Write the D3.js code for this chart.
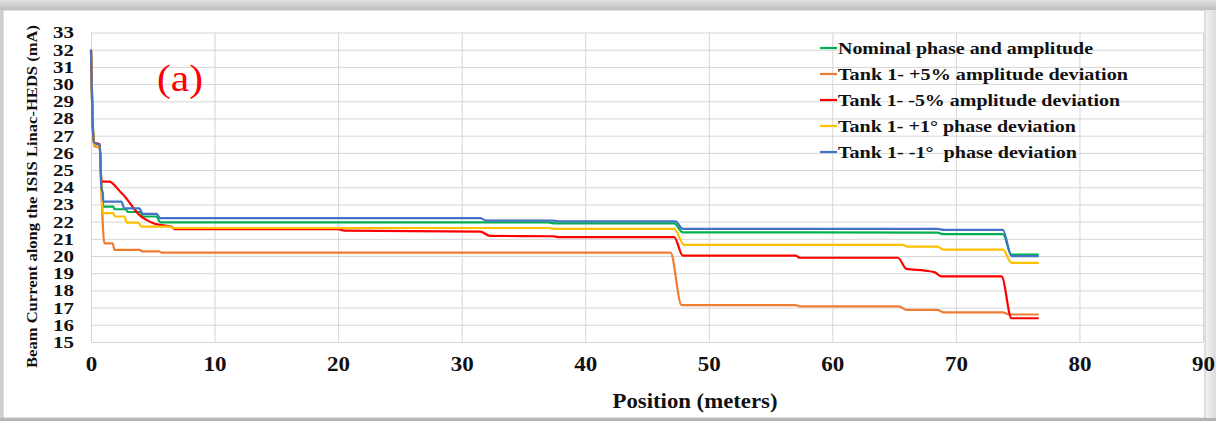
<!DOCTYPE html>
<html lang="en">
<head>
<meta charset="utf-8">
<title>Beam Current along the ISIS Linac-HEDS</title>
<script src="https://cdn.jsdelivr.net/npm/d3@7"></script>
<style>
    body { margin: 0; background: #ffffff; }
    text { font-family: "Liberation Serif", "Times New Roman", serif; }
    .grid line { stroke: #d6d6d6; stroke-width: 1; }
    .grid path { display: none; }
    .lbl path, .lbl line { display: none; }
</style>
</head>
<body>
<script>
/* ---- data: [position (m), beam current (mA)] ---- */
var xTicks = [0, 10, 20, 30, 40, 50, 60, 70, 80, 90];
var yTicks = [15, 16, 17, 18, 19, 20, 21, 22, 23, 24, 25, 26, 27, 28, 29, 30, 31, 32, 33];

var nominal = [[0,32],[0.15,27.5],[0.25,26.6],[0.7,26.4],[0.85,24.0],[0.95,23.2],[1.0,22.87],[1.8,22.87],
    [1.9,22.72],[2.8,22.72],[3.0,22.56],[4.0,22.56],[4.2,22.3],[5.3,22.3],[5.6,21.96],[37.0,21.96],[37.5,21.9],
    [47.2,21.9],[47.9,21.38],[68.5,21.36],[69.0,21.27],[73.8,21.27],[74.5,20.08],[76.7,20.08]];
var plus5amp = [[0,32],[0.15,27.5],[0.25,26.4],[0.7,26.3],[0.85,23.6],[1.08,20.74],[1.75,20.74],[1.9,20.36],
    [4.0,20.36],[4.1,20.27],[5.5,20.27],[5.7,20.2],[46.9,20.2],[47.8,17.15],[57.0,17.15],[57.4,17.07],
    [65.4,17.07],[66.0,16.87],[68.5,16.87],[69.0,16.72],[73.8,16.72],[74.3,16.6],[76.7,16.6]];
var minus5amp = [[0,32],[0.15,27.5],[0.25,26.6],[0.7,26.5],[0.85,24.33],[1.5,24.33],[2.0,24.04],[2.35,23.75],
    [2.75,23.45],[3.16,23.07],[3.56,22.68],[3.97,22.35],[4.5,22.1],[5.04,21.91],[5.58,21.81],[6.5,21.71],
    [6.8,21.56],[20.0,21.56],[20.5,21.48],[31.5,21.42],[32.3,21.17],[37.4,21.15],[37.8,21.1],[47.2,21.1],
    [47.9,20.02],[57.0,20.02],[57.4,19.9],[65.3,19.9],[66.0,19.25],[67.5,19.15],[68.3,19.05],[68.8,18.82],
    [73.7,18.82],[74.5,16.38],[76.7,16.38]];
var plus1deg = [[0,32],[0.15,27.5],[0.25,26.5],[0.7,26.33],[0.85,23.5],[1.0,22.49],[1.8,22.49],[1.95,22.3],
    [2.7,22.3],[2.9,21.94],[3.8,21.94],[4.1,21.71],[6.4,21.71],[6.7,21.63],[37.0,21.63],[37.5,21.58],
    [47.2,21.58],[48.0,20.65],[65.7,20.65],[66.1,20.55],[68.5,20.55],[69.0,20.37],[73.8,20.37],[74.5,19.6],[76.7,19.6]];
var minus1deg = [[0,32],[0.15,27.5],[0.25,26.6],[0.7,26.45],[0.85,23.9],[0.95,23.7],[1.0,23.16],[2.45,23.16],
    [2.7,22.77],[3.9,22.77],[4.2,22.45],[5.3,22.45],[5.6,22.2],[31.5,22.2],[32.0,22.06],[37.4,22.06],[37.8,22.02],
    [47.3,22.02],[47.9,21.58],[68.5,21.58],[69.0,21.52],[73.8,21.52],[74.5,20.0],[76.7,20.0]];

var seriesNames = ["Nominal phase and amplitude", "Tank 1- +5% amplitude deviation",
    "Tank 1- -5% amplitude deviation", "Tank 1- +1\u00B0 phase deviation", "Tank 1- -1\u00B0  phase deviation"];
var seriesData = [nominal, plus5amp, minus5amp, plus1deg, minus1deg];
var seriesColors = ["#00b050", "#ed7d31", "#ff0000", "#ffc000", "#4472c4"];

/* ---- layout ---- */
var W = 1216, H = 421;
var plot = {left: 91, right: 1203, top: 32.5, bottom: 342};

var x = d3.scaleLinear().domain([0, 90]).range([plot.left, plot.right]);
var y = d3.scaleLinear().domain([15, 33]).range([plot.bottom, plot.top]);

var svg = d3.select("body").append("svg")
    .attr("width", W)
    .attr("height", H);

/* grey frame around the white chart area */
var defs = svg.append("defs");
var gTop = defs.append("linearGradient").attr("id", "topg").attr("x1", 0).attr("y1", 0).attr("x2", 0).attr("y2", 1);
gTop.append("stop").attr("offset", "0%").attr("stop-color", "#e2e2e2");
gTop.append("stop").attr("offset", "100%").attr("stop-color", "#bdbdbd");
var gRight = defs.append("linearGradient").attr("id", "rightg").attr("x1", 0).attr("y1", 0).attr("x2", 1).attr("y2", 0);
gRight.append("stop").attr("offset", "0%").attr("stop-color", "#f4f4f4");
gRight.append("stop").attr("offset", "100%").attr("stop-color", "#dcdcdc");

svg.append("rect").attr("width", W).attr("height", H).attr("fill", "#d0d0d0");
svg.append("rect").attr("x", 0).attr("y", 0).attr("width", W).attr("height", 10).attr("fill", "url(#topg)");
svg.append("rect").attr("x", 1205).attr("y", 10).attr("width", 11).attr("height", 408).attr("fill", "url(#rightg)");
svg.append("rect").attr("x", 0).attr("y", 418).attr("width", W).attr("height", 3).attr("fill", "#b4b4b4");
svg.append("rect")
    .attr("x", 3).attr("y", 10)
    .attr("width", 1202).attr("height", 408)
    .attr("fill", "#ffffff")
    .attr("stroke", "#c4c4c4")
    .attr("stroke-width", 1);

/* gridlines */
svg.append("g")
    .attr("class", "grid")
    .attr("transform", "translate(0," + plot.bottom + ")")
    .call(d3.axisBottom(x).tickValues(xTicks).tickSize(-(plot.bottom - plot.top)).tickFormat(""));
svg.append("g")
    .attr("class", "grid")
    .attr("transform", "translate(" + plot.left + ",0)")
    .call(d3.axisLeft(y).tickValues(yTicks).tickSize(-(plot.right - plot.left)).tickFormat(""));

/* tick labels */
var xLab = svg.append("g")
    .attr("class", "lbl")
    .attr("transform", "translate(0," + plot.bottom + ")")
    .call(d3.axisBottom(x).tickValues(xTicks).tickSize(0).tickPadding(15));
xLab.selectAll("text")
    .attr("fill", "#111")
    .style("font-size", "20px")
    .style("font-weight", "bold")
    .attr("textLength", function(d) { return String(d).length * 11.5; })
    .attr("lengthAdjust", "spacingAndGlyphs");

var yLab = svg.append("g")
    .attr("class", "lbl")
    .attr("transform", "translate(" + plot.left + ",0)")
    .call(d3.axisLeft(y).tickValues(yTicks).tickSize(0).tickPadding(17));
yLab.selectAll("text")
    .attr("fill", "#111")
    .style("font-size", "17px")
    .style("font-weight", "bold")
    .attr("textLength", 21)
    .attr("lengthAdjust", "spacingAndGlyphs");

/* axis titles */
svg.append("text")
    .attr("x", 695)
    .attr("y", 408)
    .attr("text-anchor", "middle")
    .attr("fill", "#111")
    .style("font-size", "20px")
    .style("font-weight", "bold")
    .attr("textLength", 165)
    .attr("lengthAdjust", "spacingAndGlyphs")
    .text("Position (meters)");

svg.append("text")
    .attr("transform", "translate(36.5,196.5) rotate(-90)")
    .attr("text-anchor", "middle")
    .attr("fill", "#111")
    .style("font-size", "14.5px")
    .style("font-weight", "bold")
    .attr("textLength", 343)
    .attr("lengthAdjust", "spacingAndGlyphs")
    .text("Beam Current along the ISIS Linac-HEDS (mA)");

/* series lines */
var line = d3.line()
    .x(function(d) { return x(d[0]); })
    .y(function(d) { return y(d[1]); })
    .curve(d3.curveMonotoneX);

svg.selectAll(".series")
    .data(seriesData)
    .enter().append("path")
    .attr("class", "series")
    .attr("fill", "none")
    .attr("stroke", function(d, i) { return seriesColors[i]; })
    .attr("stroke-width", 2.2)
    .attr("stroke-linejoin", "round")
    .attr("d", line);

/* panel label */
svg.append("text")
    .attr("x", 157)
    .attr("y", 91)
    .attr("fill", "#ff0000")
    .style("font-size", "37px")
    .attr("textLength", 46)
    .attr("lengthAdjust", "spacingAndGlyphs")
    .text("(a)");

/* legend */
var legW = [255, 290, 282, 238, 239];
var leg = svg.selectAll(".leg")
    .data(seriesNames)
    .enter().append("g")
    .attr("class", "leg")
    .attr("transform", function(d, i) { return "translate(820," + (48 + i * 26) + ")"; });
leg.append("line")
    .attr("x1", 0).attr("x2", 17)
    .attr("stroke", function(d, i) { return seriesColors[i]; })
    .attr("stroke-width", 2.2);
leg.append("text")
    .attr("x", 18)
    .attr("y", 5.5)
    .attr("fill", "#111")
    .style("font-size", "16.5px")
    .style("font-weight", "bold")
    .style("white-space", "pre")
    .attr("textLength", function(d, i) { return legW[i]; })
    .attr("lengthAdjust", "spacingAndGlyphs")
    .text(function(d) { return d; });
</script>
</body>
</html>
